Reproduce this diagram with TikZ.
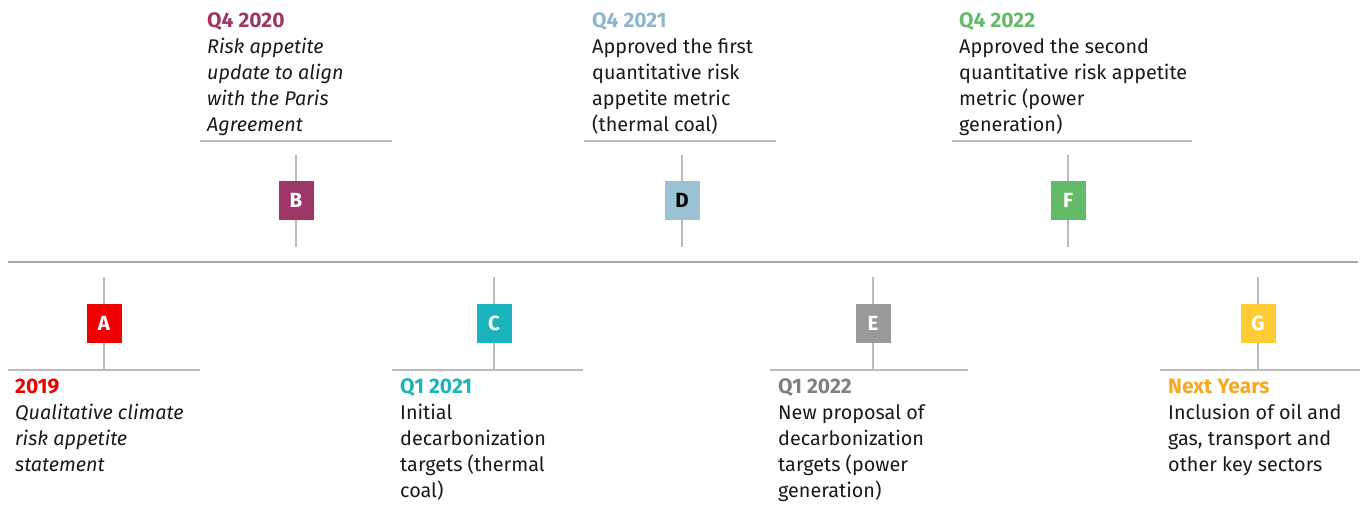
\documentclass[tikz,border=0pt]{standalone}
\usepackage{fontspec}
\setmainfont{Fira Sans}
\definecolor{cA}{HTML}{EC0000}
\definecolor{cB}{HTML}{9E3667}
\definecolor{cC}{HTML}{1BB3BC}
\definecolor{cD}{HTML}{9BC3D3}
\definecolor{cDt}{HTML}{8CB7C9}
\definecolor{cE}{HTML}{999999}
\definecolor{cEt}{HTML}{808080}
\definecolor{cF}{HTML}{63BA68}
\definecolor{cG}{HTML}{FFCC33}
\definecolor{cGt}{HTML}{F7A823}
\definecolor{bodytext}{HTML}{1A1A1A}
\definecolor{rule}{HTML}{BBBBBB}
\definecolor{mainrule}{HTML}{A6A6A6}
\newcommand\evtext[3]{\fontsize{19.8}{26}\selectfont\begin{tabular}[t]{@{}l@{}}\textcolor{#1}{\fontsize{21}{26}\selectfont\textbf{#2}}\\#3\end{tabular}}
\begin{document}
\begin{tikzpicture}[x=1pt,y=-1pt,
  box/.style={minimum width=35pt,minimum height=39pt,inner sep=0pt,text=white,font=\fontsize{20.5}{24}\selectfont\bfseries},
  tick/.style={draw=rule,line width=1.4pt},
  mainline/.style={draw=mainrule,line width=2.4pt},
  txt/.style={anchor=base west,inner sep=0pt,text=bodytext}]
\useasboundingbox (0,0) rectangle (1360,505);
\coordinate (L) at (8,262);
\coordinate (R) at (1358,262);
\draw[mainline] (L) -- (R);
% A (lower)
\node[box,fill=cA] (A) at (104,323.5) {A};
\coordinate (A-top) at (104,277); \coordinate (A-bot) at (104,370);
\coordinate (A-l) at (8,370); \coordinate (A-r) at (200,370);
\draw[tick] (A-top) -- (A); \draw[tick] (A) -- (A-bot); \draw[tick] (A-l) -- (A-r);
\node[txt] (A-text) at (15,393) {\evtext{cA}{2019}{\itshape Qualitative climate\\\itshape risk appetite\\\itshape statement}};
% B (upper)
\node[box,fill=cB] (B) at (296,200.5) {B};
\coordinate (B-top) at (296,155); \coordinate (B-bot) at (296,247);
\coordinate (B-l) at (200,141); \coordinate (B-r) at (392,141);
\draw[tick] (B-top) -- (B); \draw[tick] (B) -- (B-bot); \draw[tick] (B-l) -- (B-r);
\node[txt] (B-text) at (207,28) {\evtext{cB}{Q4 2020}{\itshape Risk appetite\\\itshape update to align\\\itshape with the Paris\\\itshape Agreement}};
% C (lower)
\node[box,fill=cC] (C) at (494,323.5) {C};
\coordinate (C-top) at (494,277); \coordinate (C-bot) at (494,370);
\coordinate (C-l) at (392,370); \coordinate (C-r) at (583,370);
\draw[tick] (C-top) -- (C); \draw[tick] (C) -- (C-bot); \draw[tick] (C-l) -- (C-r);
\node[txt] (C-text) at (400,393) {\evtext{cC}{Q1 2021}{Initial\\decarbonization\\targets (thermal\\coal)}};
% D (upper)
\node[box,fill=cD,text=black] (D) at (682,200.5) {D};
\coordinate (D-top) at (682,155); \coordinate (D-bot) at (682,247);
\coordinate (D-l) at (584,141); \coordinate (D-r) at (776,141);
\draw[tick] (D-top) -- (D); \draw[tick] (D) -- (D-bot); \draw[tick] (D-l) -- (D-r);
\node[txt] (D-text) at (592,28) {\evtext{cDt}{Q4 2021}{Approved the first\\quantitative risk\\appetite metric\\(thermal coal)}};
% E (lower)
\node[box,fill=cE] (E) at (873,323.5) {E};
\coordinate (E-top) at (873,277); \coordinate (E-bot) at (873,370);
\coordinate (E-l) at (770,370); \coordinate (E-r) at (968,370);
\draw[tick] (E-top) -- (E); \draw[tick] (E) -- (E-bot); \draw[tick] (E-l) -- (E-r);
\node[txt] (E-text) at (778,393) {\evtext{cEt}{Q1 2022}{New proposal of\\decarbonization\\targets (power\\generation)}};
% F (upper)
\node[box,fill=cF] (F) at (1068,200.5) {F};
\coordinate (F-top) at (1068,155); \coordinate (F-bot) at (1068,247);
\coordinate (F-l) at (952,141); \coordinate (F-r) at (1192,141);
\draw[tick] (F-top) -- (F); \draw[tick] (F) -- (F-bot); \draw[tick] (F-l) -- (F-r);
\node[txt] (F-text) at (959,28) {\evtext{cF}{Q4 2022}{Approved the second\\quantitative risk appetite\\metric (power\\generation)}};
% G (lower)
\node[box,fill=cG] (G) at (1258,323.5) {G};
\coordinate (G-top) at (1258,277); \coordinate (G-bot) at (1258,370);
\coordinate (G-l) at (1160,370); \coordinate (G-r) at (1360,370);
\draw[tick] (G-top) -- (G); \draw[tick] (G) -- (G-bot); \draw[tick] (G-l) -- (G-r);
\node[txt] (G-text) at (1168,393) {\evtext{cGt}{Next Years}{Inclusion of oil and\\gas, transport and\\other key sectors}};
\end{tikzpicture}
\end{document}
